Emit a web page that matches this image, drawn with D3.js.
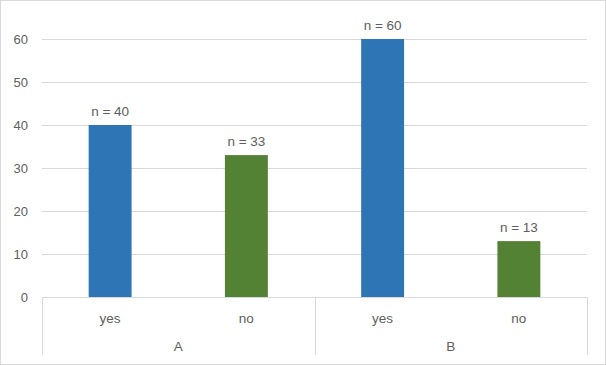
<!DOCTYPE html>
<html>
<head>
<meta charset="utf-8">
<script src="https://cdn.jsdelivr.net/npm/d3@7"></script>
<style>
  body { margin: 0; background: #fff; }
  text { font-family: "Helvetica Neue", "Liberation Sans", Arial, sans-serif; fill: #5e5e5e; }
</style>
</head>
<body>
<svg id="chart" width="606" height="365"></svg>
<script>
// Data
const groups = ["A", "B"];
const answers = ["yes", "no"];
const counts = [40, 33, 60, 13];
const yTicks = [0, 10, 20, 30, 40, 50, 60];
const barColors = { yes: "#2e75b6", no: "#548235" };

const width = 606, height = 365;
const margin = { top: 39, right: 19, bottom: 68, left: 42 };

const svg = d3.select("#chart");

// outer frame
svg.append("rect")
    .attr("x", 0.5).attr("y", 0.5)
    .attr("width", width - 1).attr("height", height - 1)
    .attr("fill", "#fff")
    .attr("stroke", "#d9d9d9");

// rows: one per bar
const rows = [];
groups.forEach((g, gi) => {
    answers.forEach((a, ai) => {
        rows.push({ key: g + "-" + a, group: g, answer: a, value: counts[gi * answers.length + ai] });
    });
});

const x = d3.scaleBand()
    .domain(rows.map(d => d.key))
    .range([margin.left, width - margin.right])
    .paddingInner(0.685)
    .paddingOuter(0.3425);

const xGroup = d3.scaleBand()
    .domain(groups)
    .range([margin.left, width - margin.right]);

const y = d3.scaleLinear()
    .domain([0, 60])
    .range([height - margin.bottom, margin.top]);

// gridlines
svg.append("g")
    .selectAll("line")
    .data(yTicks.filter(t => t > 0))
    .join("line")
    .attr("x1", margin.left).attr("x2", width - margin.right)
    .attr("y1", d => Math.round(y(d)) + 0.5).attr("y2", d => Math.round(y(d)) + 0.5)
    .attr("stroke", "#d9d9d9");

// y tick labels
svg.append("g")
    .selectAll("text")
    .data(yTicks)
    .join("text")
    .attr("x", 28)
    .attr("y", d => y(d) + 4.5)
    .attr("text-anchor", "end")
    .style("font-size", "13px")
    .text(d => d);

// bars
svg.append("g")
    .selectAll("rect")
    .data(rows)
    .join("rect")
    .attr("x", d => x(d.key))
    .attr("y", d => y(d.value))
    .attr("width", x.bandwidth())
    .attr("height", d => y(0) - y(d.value))
    .attr("fill", d => barColors[d.answer]);

// value labels
svg.append("g")
    .selectAll("text")
    .data(rows)
    .join("text")
    .attr("x", d => x(d.key) + x.bandwidth() / 2)
    .attr("y", d => y(d.value) - 9)
    .attr("text-anchor", "middle")
    .style("font-size", "13.5px")
    .text(d => "n = " + d.value);

// category axis
const axisY = Math.round(y(0)) + 0.5;
svg.append("line")
    .attr("x1", margin.left).attr("x2", width - margin.right)
    .attr("y1", axisY).attr("y2", axisY)
    .attr("stroke", "#d9d9d9");

const seps = groups.map(g => xGroup(g)).concat([width - margin.right]);
svg.append("g")
    .selectAll("line")
    .data(seps)
    .join("line")
    .attr("x1", d => Math.round(d) + 0.5).attr("x2", d => Math.round(d) + 0.5)
    .attr("y1", axisY).attr("y2", 355)
    .attr("stroke", "#d9d9d9");

svg.append("g")
    .selectAll("text")
    .data(rows)
    .join("text")
    .attr("x", d => x(d.key) + x.bandwidth() / 2)
    .attr("y", 323)
    .attr("text-anchor", "middle")
    .style("font-size", "13.5px")
    .text(d => d.answer);

svg.append("g")
    .selectAll("text")
    .data(groups)
    .join("text")
    .attr("x", d => xGroup(d) + xGroup.bandwidth() / 2)
    .attr("y", 351)
    .attr("text-anchor", "middle")
    .style("font-size", "13.5px")
    .text(d => d);
</script>
</body>
</html>
